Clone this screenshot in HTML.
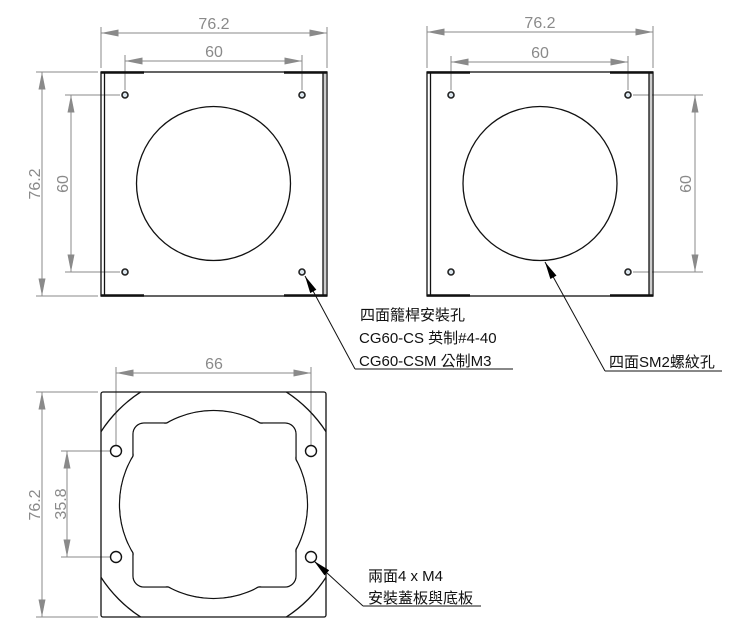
<!DOCTYPE html>
<html><head><meta charset="utf-8"><style>
html,body{margin:0;padding:0;background:#fff;width:743px;height:638px;overflow:hidden}
svg{display:block}
.d{stroke:#8a8a8a;stroke-width:1;fill:none}
.dt{fill:#8a8a8a;font-family:"Liberation Sans",sans-serif;font-size:16px;text-anchor:middle}
.o{stroke:#111;stroke-width:1.3;fill:none}
.lb{fill:#111;font-family:"Liberation Sans","Noto Sans CJK TC",sans-serif;font-size:15px}
</style></head><body>
<svg width="743" height="638" viewBox="0 0 743 638" xmlns="http://www.w3.org/2000/svg">
<defs>
<marker id="a" viewBox="0 0 20 8" refX="20" refY="4" markerWidth="20" markerHeight="7" markerUnits="userSpaceOnUse" orient="auto-start-reverse"><path d="M0,0 L20,4 L0,8 z" fill="#8a8a8a"/></marker>
<marker id="b" viewBox="0 0 20 8" refX="20" refY="4" markerWidth="18" markerHeight="7" markerUnits="userSpaceOnUse" orient="auto"><path d="M0,0 L20,4 L0,8 z" fill="#000"/></marker>
</defs>

<!-- ===== Top-left view ===== -->
<line class="d" x1="101" y1="27" x2="101" y2="68"/><line class="d" x1="327" y1="27" x2="327" y2="68"/>
<line class="d" x1="101" y1="33" x2="327" y2="33" marker-start="url(#a)" marker-end="url(#a)"/>
<text class="dt" x="214" y="29">76.2</text>
<line class="d" x1="125" y1="55" x2="125" y2="90"/><line class="d" x1="302" y1="55" x2="302" y2="90"/>
<line class="d" x1="125" y1="61" x2="302" y2="61" marker-start="url(#a)" marker-end="url(#a)"/>
<text class="dt" x="214" y="57">60</text>
<line class="d" x1="36" y1="72" x2="98" y2="72"/><line class="d" x1="36" y1="296" x2="98" y2="296"/>
<line class="d" x1="42" y1="72" x2="42" y2="296" marker-start="url(#a)" marker-end="url(#a)"/>
<text class="dt" transform="translate(40,184) rotate(-90)">76.2</text>
<line class="d" x1="65" y1="95" x2="120" y2="95"/><line class="d" x1="65" y1="272" x2="120" y2="272"/>
<line class="d" x1="71" y1="95" x2="71" y2="272" marker-start="url(#a)" marker-end="url(#a)"/>
<text class="dt" transform="translate(68,184) rotate(-90)">60</text>

<rect x="101" y="72" width="226" height="224" class="o"/>
<rect x="323" y="73" width="3" height="222" fill="#ccc"/>
<line class="o" x1="104.5" y1="73" x2="104.5" y2="295"/><line class="o" x1="323" y1="73" x2="323" y2="295"/>
<path d="M101,72.5 H144 M284,72.5 H327 M101,295.5 H144 M284,295.5 H327" stroke="#111" stroke-width="2.5"/>
<circle cx="213.5" cy="183.5" r="77" class="o"/>
<g fill="#dbe6ee" stroke="#222" stroke-width="1.6">
<circle cx="125" cy="95" r="3"/><circle cx="302" cy="95" r="3"/><circle cx="125" cy="272" r="3"/><circle cx="302" cy="272" r="3"/>
</g>

<!-- ===== Top-right view ===== -->
<line class="d" x1="427" y1="26" x2="427" y2="68"/><line class="d" x1="653" y1="26" x2="653" y2="68"/>
<line class="d" x1="427" y1="32" x2="653" y2="32" marker-start="url(#a)" marker-end="url(#a)"/>
<text class="dt" x="540" y="28">76.2</text>
<line class="d" x1="451" y1="56" x2="451" y2="90"/><line class="d" x1="628" y1="56" x2="628" y2="90"/>
<line class="d" x1="451" y1="62" x2="628" y2="62" marker-start="url(#a)" marker-end="url(#a)"/>
<text class="dt" x="540" y="58">60</text>
<line class="d" x1="633" y1="95" x2="703" y2="95"/><line class="d" x1="633" y1="272" x2="703" y2="272"/>
<line class="d" x1="695" y1="95" x2="695" y2="272" marker-start="url(#a)" marker-end="url(#a)"/>
<text class="dt" transform="translate(691,184) rotate(-90)">60</text>

<rect x="427" y="72" width="226" height="224" class="o"/>
<rect x="649" y="73" width="3" height="222" fill="#ccc"/>
<line class="o" x1="430.5" y1="73" x2="430.5" y2="295"/><line class="o" x1="649" y1="73" x2="649" y2="295"/>
<path d="M427,72.5 H470 M610,72.5 H653 M427,295.5 H470 M610,295.5 H653" stroke="#111" stroke-width="2.5"/>
<circle cx="540" cy="183.5" r="77" class="o"/>
<g fill="#dbe6ee" stroke="#222" stroke-width="1.6">
<circle cx="451" cy="95" r="3"/><circle cx="628" cy="95" r="3"/><circle cx="451" cy="272" r="3"/><circle cx="628" cy="272" r="3"/>
</g>

<!-- ===== Bottom view ===== -->
<line class="d" x1="116" y1="367" x2="116" y2="446"/><line class="d" x1="311" y1="367" x2="311" y2="446"/>
<line class="d" x1="116" y1="373" x2="311" y2="373" marker-start="url(#a)" marker-end="url(#a)"/>
<text class="dt" x="214" y="369">66</text>
<line class="d" x1="36" y1="392" x2="98" y2="392"/><line class="d" x1="36" y1="617" x2="98" y2="617"/>
<line class="d" x1="42" y1="392" x2="42" y2="617" marker-start="url(#a)" marker-end="url(#a)"/>
<text class="dt" transform="translate(40,505) rotate(-90)">76.2</text>
<line class="d" x1="61" y1="451" x2="110" y2="451"/><line class="d" x1="61" y1="557" x2="110" y2="557"/>
<line class="d" x1="67" y1="451" x2="67" y2="557" marker-start="url(#a)" marker-end="url(#a)"/>
<text class="dt" transform="translate(66,504) rotate(-90)">35.8</text>

<defs><clipPath id="sq"><rect x="101" y="392" width="225" height="225"/></clipPath></defs>
<rect x="101" y="392" width="225" height="225" rx="2" class="o"/>
<circle cx="213.5" cy="504.5" r="134" class="o" clip-path="url(#sq)"/>
<circle cx="213.5" cy="504.5" r="94" class="o"/>
<rect x="133" y="423" width="163" height="164" rx="11" class="o"/>
<circle cx="213.5" cy="504.5" r="93.3" fill="#fff"/>
<rect x="133.7" y="423.7" width="161.6" height="162.6" rx="10.3" fill="#fff"/>
<g fill="#fff" stroke="#111" stroke-width="1.4">
<circle cx="116" cy="451" r="5.5"/><circle cx="311" cy="451" r="5.5"/><circle cx="116" cy="557" r="5.5"/><circle cx="311" cy="557" r="5.5"/>
</g>

<!-- ===== Callouts ===== -->
<line x1="355" y1="369" x2="513" y2="369" stroke="#111" stroke-width="1"/>
<line x1="355" y1="369" x2="305" y2="276" stroke="#111" stroke-width="1" marker-end="url(#b)"/>
<text class="lb" x="360" y="320">四面籠桿安裝孔</text>
<text class="lb" x="359" y="343">CG60-CS 英制#4-40</text>
<text class="lb" x="359" y="366">CG60-CSM 公制M3</text>

<line x1="605" y1="371" x2="722" y2="371" stroke="#111" stroke-width="1"/>
<line x1="605" y1="371" x2="545" y2="262" stroke="#111" stroke-width="1" marker-end="url(#b)"/>
<text class="lb" x="609" y="367">四面SM2螺紋孔</text>

<line x1="363" y1="606" x2="481" y2="606" stroke="#111" stroke-width="1"/>
<line x1="363" y1="606" x2="314" y2="561" stroke="#111" stroke-width="1" marker-end="url(#b)"/>
<text class="lb" x="368" y="581">兩面4 x M4</text>
<text class="lb" x="368" y="603">安裝蓋板與底板</text>
</svg>
</body></html>
